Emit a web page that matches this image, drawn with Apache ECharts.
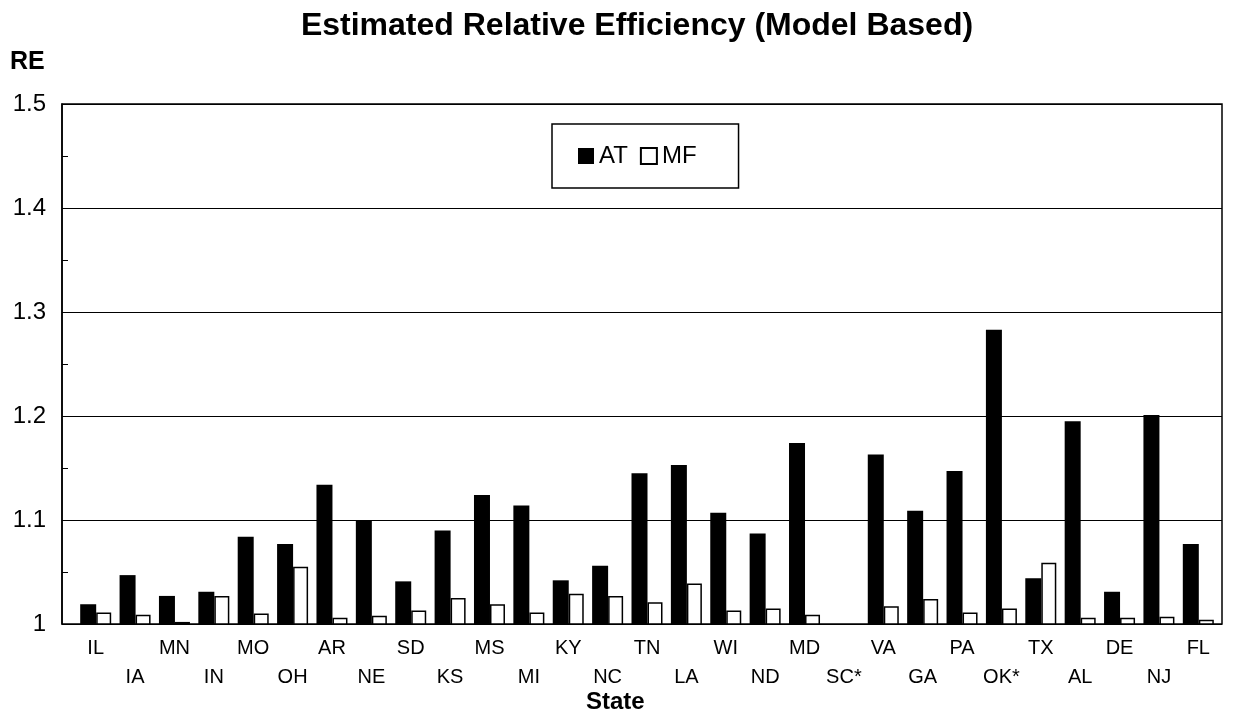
<!DOCTYPE html>
<html>
<head>
<meta charset="utf-8">
<script src="https://cdn.jsdelivr.net/npm/echarts@6/dist/echarts.min.js"></script>
<style>
  html, body { margin: 0; padding: 0; background: #fff; }
  #chart { width: 1233px; height: 719px; }
</style>
</head>
<body>
<div id="chart"></div>
<script>
// States along the horizontal axis
const states = ['IL','IA','MN','IN','MO','OH','AR','NE','SD','KS','MS','MI','KY','NC','TN',
                'LA','WI','ND','MD','SC*','VA','GA','PA','OK*','TX','AL','DE','NJ','FL'];

// Estimated relative efficiency, AT estimator
const atValues = [1.019,1.047,1.027,1.031,1.084,1.077,1.134,1.100,1.041,1.090,1.124,1.114,1.042,1.056,1.145,
                  1.153,1.107,1.087,1.174,null,1.163,1.109,1.147,1.283,1.044,1.195,1.031,1.201,1.077];

// Estimated relative efficiency, MF estimator
const mfValues = [1.011,1.009,1.002,1.027,1.010,1.055,1.006,1.008,1.013,1.025,1.019,1.011,1.029,1.027,1.021,
                  1.039,1.013,1.015,1.009,null,1.017,1.024,1.011,1.015,1.059,1.006,1.006,1.007,1.004];

// Value axis range and ticks
const yMin = 1.0;
const yMax = 1.5;
const yStep = 0.1;

const FONT = '"Liberation Sans", Arial, sans-serif';
const chart = echarts.init(document.getElementById('chart'), null, { renderer: 'canvas' });

const plotTop = 104, plotBottom = 719 - 624;

chart.setOption({
  backgroundColor: '#ffffff',
  animation: false,
  textStyle: { fontFamily: FONT, color: '#000' },
  title: {
    text: 'Estimated Relative Efficiency (Model Based)',
    left: 632, top: 5, textAlign: 'center',
    textStyle: { fontFamily: FONT, fontSize: 32, fontWeight: 'bold', color: '#000' }
  },
  graphic: [
    { type: 'text', left: 10, top: 50,
      style: { text: 'RE', fontFamily: FONT, fontSize: 25, fontWeight: 'bold', fill: '#000' } },
    { type: 'text', left: 586, top: 690,
      style: { text: 'State', fontFamily: FONT, fontSize: 24, fontWeight: 'bold', fill: '#000' } }
  ],
  legend: {
    left: 552, top: 124,
    orient: 'horizontal',
    padding: [20, 42, 20, 26],
    borderColor: '#000', borderWidth: 1.5,
    itemWidth: 16, itemHeight: 16, itemGap: 12,
    icon: 'rect',
    textStyle: { fontFamily: FONT, fontSize: 24, color: '#000' },
    data: ['AT', 'MF']
  },
  grid: [
    // frame with the value axis and reference lines
    { left: 62, right: 11, top: plotTop, bottom: plotBottom, show: true,
      borderColor: '#000', borderWidth: 1.5, backgroundColor: 'transparent' },
    // bar area
    { left: 76, right: 15, top: plotTop, bottom: plotBottom }
  ],
  xAxis: [
    { gridIndex: 0, type: 'value', min: 0, max: 1, show: false },
    { gridIndex: 1, type: 'category', data: states,
      axisLine: { show: false }, axisTick: { show: false },
      axisLabel: {
        interval: 0, margin: 10, lineHeight: 29,
        fontFamily: FONT, fontSize: 20, color: '#000',
        formatter: (v, i) => (i % 2 ? '\n' + v : v)
      } }
  ],
  yAxis: [
    { gridIndex: 0, type: 'value', min: yMin, max: yMax, interval: yStep,
      axisLine: { show: true, lineStyle: { color: '#000', width: 1.5 } },
      axisTick: { show: true, inside: true, length: 6, lineStyle: { color: '#000' } },
      minorTick: { show: true, splitNumber: 2, length: 6, lineStyle: { color: '#000', width: 1 } },
      splitLine: { show: true, lineStyle: { color: '#000', width: 1.2 } },
      axisLabel: {
        margin: 16, fontFamily: FONT, fontSize: 24, color: '#000',
        formatter: v => (Math.abs(v - 1) < 1e-9 ? '1' : v.toFixed(1))
      } },
    { gridIndex: 1, type: 'value', min: yMin, max: yMax, interval: yStep, show: false }
  ],
  series: [
    { name: 'AT', type: 'bar', xAxisIndex: 1, yAxisIndex: 1, data: atValues,
      barWidth: 16, barGap: '0%', clip: true,
      itemStyle: { color: '#000' } },
    { name: 'MF', type: 'bar', xAxisIndex: 1, yAxisIndex: 1, data: mfValues,
      barWidth: 15, barGap: '0%', clip: true,
      itemStyle: { color: '#fff', borderColor: '#000', borderWidth: 1.5 } }
  ]
});
</script>
</body>
</html>
